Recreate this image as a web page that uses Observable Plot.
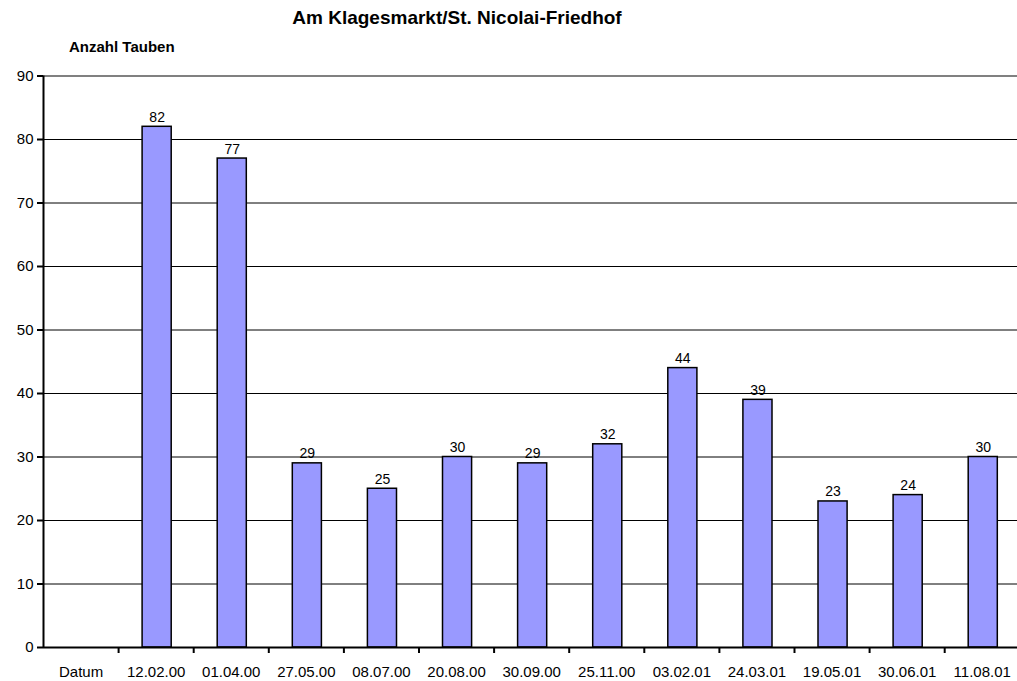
<!DOCTYPE html>
<html><head><meta charset="utf-8">
<script src="https://cdn.jsdelivr.net/npm/d3@7"></script>
<script src="https://cdn.jsdelivr.net/npm/@observablehq/plot@0.6"></script>
<style>
body{margin:0;background:#fff;font-family:"Liberation Sans",Arial,sans-serif;}
#wrap{position:relative;width:1017px;height:681px;overflow:hidden;background:#fff;}
#chart{position:absolute;left:0;top:0;}
#title{position:absolute;left:0;width:914px;top:7px;text-align:center;font-weight:bold;font-size:19px;color:#000;}
#ylab{position:absolute;left:69px;top:38px;font-weight:bold;font-size:15px;color:#000;}
</style></head>
<body>
<div id="wrap"><div id="chart"></div><div id="title">Am Klagesmarkt/St. Nicolai-Friedhof</div><div id="ylab">Anzahl Tauben</div></div>
<script>
const categories = ["Datum","12.02.00","01.04.00","27.05.00","08.07.00","20.08.00","30.09.00","25.11.00","03.02.01","24.03.01","19.05.01","30.06.01","11.08.01"];
const counts = [null,82,77,29,25,30,29,32,44,39,23,24,30];
const yTicks = [0,10,20,30,40,50,60,70,80,90];

const data = categories.map((c,i)=>({date:c, count:counts[i]}));
const bars = data.filter(d=>d.count!=null);
const bw = 75.1;
const left = 43;

const chart = Plot.plot({
  width:1017, height:681,
  marginTop:75.5, marginBottom:34, marginLeft:left, marginRight:0,
  x:{type:"band", domain:categories, range:[left, left+categories.length*bw], padding:0, round:false},
  y:{domain:[0,90], range:[647,75.5]},
  style:{fontFamily:'"Liberation Sans", Arial, sans-serif', fontSize:"15px", color:"black", background:"white", overflow:"visible"},
  marks:[
    Plot.ruleY(yTicks.filter(d=>d>0 && d<90), {stroke:"black", strokeWidth:1}),
    Plot.ruleY([90], {stroke:"#808080", strokeWidth:2}),
    Plot.barY(bars, {x:"date", y:"count", fill:"#9999FF", stroke:"black", strokeWidth:1.5, insetLeft:24, insetRight:22}),
    Plot.text(bars, {x:"date", y:"count", text:"count", lineAnchor:"bottom", dy:-5, dx:1, fontSize:14, fill:"black"}),
    Plot.ruleY([0], {stroke:"black", strokeWidth:2}),
    Plot.ruleX([categories[0]], {dx:-bw/2, stroke:"black", strokeWidth:2}),
    Plot.axisY({ticks:yTicks, tickSize:6, tickPadding:4, label:null, fontSize:15, strokeWidth:2}),
    Plot.axisX({tickSize:0, tickPadding:19, label:null, fontSize:15}),
    Plot.axisX({tickSize:6, tickFormat:()=>"", dx:bw/2, label:null, strokeWidth:2})
  ]
});
document.getElementById("chart").appendChild(chart);
</script>
</body></html>
